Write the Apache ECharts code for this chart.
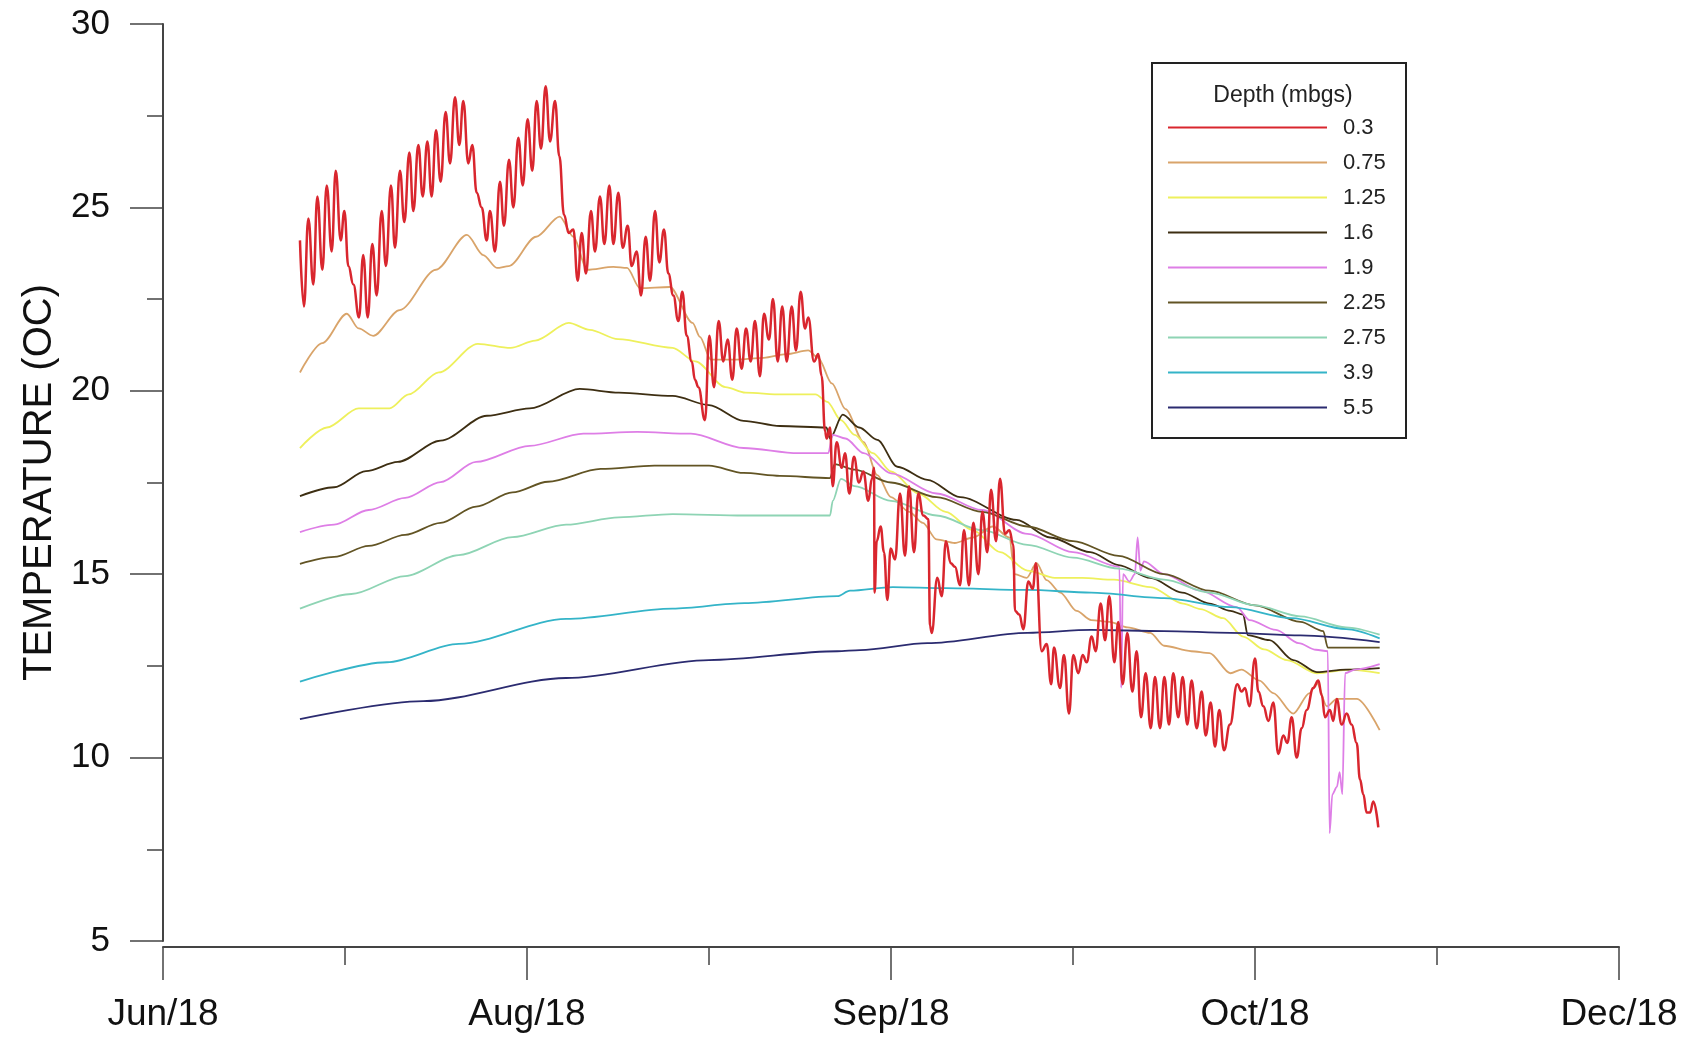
<!DOCTYPE html>
<html>
<head>
<meta charset="utf-8">
<script src="https://cdn.jsdelivr.net/npm/echarts@6/dist/echarts.min.js"></script>
<style>
    html, body { margin: 0; padding: 0; background: #fff; }
    #chart { width: 1685px; height: 1038px; }
</style>
</head>
<body>
<div id="chart"></div>
<script>
// x = days after the Jun/18 tick, y = temperature
const depths = ['0.3', '0.75', '1.25', '1.6', '1.9', '2.25', '2.75', '3.9', '5.5']
const xTickLabels = ['Jun/18', 'Aug/18', 'Sep/18', 'Oct/18', 'Dec/18']
const colors = ['#d9262e', '#d9a46a', '#eef05c', '#3d2e12', '#de7ee6', '#625424', '#8ed4b4', '#34b4c8', '#2b2b70']

const t03 = [
    [15.05,24.1],[15.49,22.3],[15.97,24.7],[16.52,22.9],[16.96,25.3],[17.51,23.3],[17.99,25.6],[18.54,23.8],[18.98,26.0],[19.53,24.1],
    [19.93,24.9],[20.37,23.4],[20.92,22.9],[21.54,22.0],[22.0,23.7],[22.5,22.0],[23.0,24.0],[23.48,22.6],[24.03,24.9],[24.5,23.4],
    [25.05,25.6],[25.49,23.9],[26.04,26.0],[26.52,24.6],[27.07,26.5],[27.51,24.9],[28.06,26.7],[28.54,25.3],[29.05,26.8],[29.52,25.3],
    [30.0,27.1],[30.51,25.7],[31.06,27.6],[31.54,26.2],[32.09,28.0],[32.56,26.7],[33.0,27.9],[33.55,26.2],[33.99,26.7],[34.47,25.4],
    [35.02,25.0],[35.57,24.1],[35.93,24.9],[36.48,23.8],[37.03,25.7],[37.47,24.5],[38.02,26.3],[38.5,25.0],[39.05,26.9],[39.53,25.6],
    [40.07,27.4],[40.58,26.0],[41.06,27.9],[41.54,26.6],[42.05,28.3],[42.53,26.8],[43.08,27.9],[43.55,26.4],[44.07,24.8],[44.58,24.3],
    [45.09,24.4],[45.57,23.0],[46.01,24.3],[46.48,23.2],[47.03,24.9],[47.47,23.8],[48.02,25.3],[48.5,24.0],[49.05,25.6],[49.49,24.0],
    [50.04,25.4],[50.52,23.9],[51.07,24.5],[51.5,23.4],[52.05,23.8],[52.53,22.6],[53.04,24.2],[53.52,23.0],[54.07,24.9],[54.54,23.5],
    [55.05,24.4],[55.53,23.2],[56.08,22.6],[56.63,21.9],[57.07,22.7],[57.55,21.5],[58.1,20.8],[58.46,20.3],[58.83,20.1],[59.56,19.2],
    [60.03,21.5],[60.55,20.1],[61.06,21.9],[61.57,20.8],[62.05,21.4],[62.56,20.3],[63.04,21.7],[63.59,20.6],[64.07,21.7],[64.58,20.8],
    [65.05,21.9],[65.6,20.4],[66.04,22.1],[66.59,21.4],[67.03,22.5],[67.55,20.8],[68.05,22.3],[68.54,20.8],[69.09,22.3],[69.56,21.1],
    [70.07,22.7],[70.55,21.7],[70.91,22.0],[71.54,20.8],[72.01,21.0],[72.38,20.4],[72.75,18.9],[72.93,18.7],[73.3,19.0],[73.59,17.4],
    [74.03,18.6],[74.58,17.9],[74.95,18.3],[75.42,17.2],[75.93,18.2],[76.48,17.5],[76.96,17.8],[77.51,17.0],[77.9,17.6],[78.13,17.9],
    [78.2,14.5],[78.43,15.9],[78.86,16.3],[79.23,15.6],[79.6,14.3],[79.96,15.7],[80.44,15.4],[80.99,17.2],[81.54,15.5],[81.98,17.4],
    [82.53,15.6],[83.0,17.2],[83.55,16.6],[84.1,16.5],[84.29,13.6],[84.47,13.4],[85.09,14.9],[85.57,14.4],[86.04,15.9],[86.56,15.3],
    [87.03,15.2],[87.58,14.7],[88.02,16.2],[88.57,14.7],[89.05,16.4],[89.6,15.0],[90.04,16.7],[90.58,15.6],[90.99,17.3],[91.54,15.9],
    [91.98,17.6],[92.53,16.1],[93.0,16.2],[93.44,15.8],[93.63,14.0],[94.1,13.9],[94.54,13.5],[95.09,14.8],[95.57,14.6],[95.93,15.3],
    [96.56,12.9],[97.11,13.1],[97.6,12.0],[97.91,13.0],[98.57,11.9],[99.01,12.8],[99.56,11.2],[100.04,12.8],[100.58,12.3],[101.06,12.8],
    [101.5,12.6],[102.05,13.3],[102.49,12.9],[103.04,14.2],[103.52,13.2],[103.99,14.4],[104.54,12.6],[104.98,13.7],[105.46,12.0],[105.97,13.4],
    [106.52,11.8],[107.0,12.9],[107.47,11.1],[107.99,12.3],[108.54,10.8],[109.01,12.2],[109.56,10.8],[110.04,12.2],[110.55,10.9],[111.02,12.3],
    [111.57,11.1],[112.05,12.2],[112.56,10.9],[113.04,12.1],[113.59,10.8],[114.14,11.8],[114.58,10.6],[115.13,11.5],[115.6,10.3],[116.08,11.3],
    [116.59,10.2],[117.25,10.9],[118.05,12.0],[118.53,11.8],[118.9,11.9],[119.38,11.4],[120.0,12.7],[120.37,11.8],[120.92,11.4],[121.47,11.0],
    [122.01,11.5],[122.56,10.1],[123.11,10.6],[123.55,10.4],[124.03,11.1],[124.58,10.0],[125.13,10.8],[125.68,11.3],[126.41,11.9],[126.96,12.1],
    [127.33,11.7],[127.69,11.1],[128.24,11.3],[128.6,11.0],[128.98,11.6],[129.53,10.9],[130.07,11.2],[130.62,10.9],[131.17,10.4],[131.54,9.4],
    [131.9,9.0],[132.27,8.5],[132.64,8.5],[133.0,8.8],[133.55,8.1]
]
const t075 = [
    [15.05,20.5],[17.5,21.3],[20.2,22.1],[21.5,21.7],[23.1,21.5],[26,22.2],[30,23.3],[33.4,24.25],[35.2,23.7],[36.7,23.35],
    [38,23.4],[41,24.2],[43.6,24.75],[45.1,24.2],[46.6,23.3],[49.5,23.38],[51,23.35],[52.4,22.8],[55.7,22.83],[58.2,21.85],
    [59,21.47],[60.2,20.85],[63,20.85],[66,20.9],[68.5,21.0],[70.9,21.1],[72,20.9],[73.5,20.2],[75,19.5],[77,18.6],
    [78.5,17.7],[80,17.1],[82,16.7],[83.5,16.4],[85,15.95],[87,15.85],[89,16.0],[91.2,16.3],[93,16.0],[93.6,15.0],
    [94.9,14.9],[96,15.3],[97.1,14.84],[98.6,14.5],[100.4,14.0],[102,13.75],[104,13.7],[106,13.55],[108.5,13.4],[110,13.05],
    [113,12.9],[115,12.85],[117.3,12.3],[118.5,12.4],[120.5,12.1],[122,11.76],[124.2,11.2],[126,11.76],[126.8,12.03],[127.9,11.4],
    [129,11.6],[131.2,11.6],[133.7,10.75]
]
const t125 = [
    [15.05,18.44],[18,19.0],[21.5,19.52],[24.9,19.52],[27,19.9],[30.3,20.5],[34.6,21.28],[38.2,21.17],[40.9,21.37],[44.6,21.85],
    [46.9,21.66],[50,21.41],[56,21.17],[58.5,20.8],[61.8,20.1],[64,19.95],[68,19.9],[71.7,19.9],[73,19.7],[74.5,19.2],
    [76,18.8],[78,18.3],[80,17.8],[83,17.2],[86,16.7],[89,16.2],[92,15.6],[95,15.1],[98,14.9],[101,14.9],
    [104.5,14.85],[108.5,14.65],[112.1,14.2],[114,14.05],[116.5,13.8],[118.7,13.3],[121,12.95],[123.5,12.66],[126.8,12.3],[130.4,12.4],
    [133.7,12.3]
]
const t16 = [
    [15.05,17.13],[18.8,17.37],[22.3,17.81],[25.8,18.06],[30.5,18.64],[35.6,19.32],[40.3,19.52],[45.8,20.05],[50.1,19.95],[56,19.86],
    [60,19.61],[63.8,19.18],[67.8,19.04],[72.9,19.0],[73.3,18.7],[74.7,19.35],[76.5,19.0],[78.5,18.66],[80.7,17.93],[84,17.57],
    [87.6,17.1],[93.8,16.48],[97.5,16.0],[101.9,15.6],[105,15.25],[108.5,14.9],[112,14.5],[115,14.2],[117.3,14.0],[118.7,13.9],
    [119.2,13.34],[121.6,13.2],[124.2,12.66],[126.8,12.33],[130,12.4],[133.7,12.44]
]
const t19 = [
    [15.05,16.15],[18.8,16.35],[22.6,16.75],[26.6,17.08],[30.5,17.51],[34.4,18.06],[40.3,18.5],[46.2,18.83],[52.1,18.88],[58,18.83],
    [63.8,18.44],[69.8,18.3],[73.1,18.3],[73.6,18.8],[75,18.7],[77,18.3],[80,17.75],[85,17.2],[90,16.75],[95,16.1],
    [100,15.6],[105.1,15.2],[105.3,11.9],[105.5,15.0],[106.2,14.8],[106.8,15.0],[107.1,16.0],[107.4,15.1],[107.8,15.35],[110,15.0],
    [114,14.55],[118,14.1],[119.4,13.75],[122.3,13.48],[124.8,13.12],[126.7,12.94],[128,12.9],[128.2,7.94],[128.5,9.0],[129,9.2],
    [129.3,9.6],[129.6,9.0],[129.9,12.3],[131,12.4],[133.7,12.55]
]
const t225 = [
    [15.05,15.28],[18.8,15.47],[22.6,15.77],[26.6,16.07],[30.5,16.4],[34.4,16.84],[38.4,17.23],[42.3,17.52],[48.1,17.87],[54,17.96],
    [60,17.96],[63.8,17.76],[67.8,17.68],[73.3,17.62],[73.8,18.0],[76,17.85],[80,17.5],[85,17.1],[90,16.7],[95,16.3],
    [100,15.9],[105,15.5],[110,15.0],[115,14.55],[120,14.15],[125,13.7],[127.5,13.45],[128,13.0],[133.7,13.0]
]
const t275 = [
    [15.05,14.06],[20.7,14.46],[26.6,14.95],[32.5,15.52],[38.4,16.01],[44.3,16.35],[50.1,16.55],[56,16.64],[63.8,16.6],[73.3,16.6],
    [73.6,17.0],[74.5,17.6],[76,17.4],[80,17.0],[85,16.6],[90,16.2],[95,15.8],[100,15.45],[105,15.15],[110,14.85],
    [115,14.5],[120,14.15],[125,13.85],[130,13.55],[133.7,13.35]
]
const t39 = [
    [15.05,12.07],[24.6,12.6],[32.5,13.1],[44.3,13.78],[56,14.06],[63.9,14.21],[74.1,14.4],[75.5,14.55],[80.2,14.65],[86,14.62],
    [95,14.57],[102,14.5],[110,14.35],[117.3,14.1],[124,13.8],[130,13.5],[133.7,13.25]
]
const t55 = [
    [15.05,11.05],[28.6,11.54],[44.3,12.17],[60,12.66],[74.1,12.9],[76.6,12.93],[84,13.12],[95,13.4],[102,13.48],[110,13.45],
    [117.3,13.4],[125,13.33],[133.7,13.15]
]
const seriesData = [t03, t075, t125, t16, t19, t225, t275, t39, t55]

const chart = echarts.init(document.getElementById('chart'))
const font = '"Liberation Sans", Arial, sans-serif'

chart.setOption({
    animation: false,
    backgroundColor: '#fff',
    textStyle: { fontFamily: font },
    title: {
        text: 'Depth (mbgs)',
        left: 1278,
        top: 79,
        textAlign: 'center',
        textStyle: { fontSize: 23, fontWeight: 'normal', color: '#222', fontFamily: font }
    },
    legend: {
        data: depths,
        orient: 'vertical',
        left: 1168,
        top: 110,
        padding: 0,
        itemGap: 0,
        itemWidth: 159,
        itemHeight: 2,
        icon: 'rect',
        textStyle: { fontSize: 22, lineHeight: 35, color: '#222', padding: [0, 0, 0, 11] }
    },
    graphic: [{
        type: 'rect',
        shape: { x: 1152, y: 63, width: 254, height: 375 },
        style: { fill: 'none', stroke: '#222', lineWidth: 2 },
        z: 100
    }],
    grid: { left: 163, right: 66, top: 24, bottom: 97 },
    xAxis: {
        type: 'value',
        min: 0,
        max: 160,
        interval: 40,
        offset: 6,
        axisLine: { lineStyle: { color: '#444', width: 2 } },
        axisTick: { length: 33, lineStyle: { color: '#444', width: 1.5 } },
        minorTick: { show: true, splitNumber: 2, length: 18, lineStyle: { color: '#444', width: 1.5 } },
        splitLine: { show: false },
        axisLabel: {
            margin: 49,
            fontSize: 37,
            color: '#111',
            formatter: v => xTickLabels[v / 40]
        }
    },
    yAxis: {
        type: 'value',
        min: 5,
        max: 30,
        interval: 5,
        name: 'TEMPERATURE (OC)',
        nameLocation: 'middle',
        nameGap: 100,
        nameTextStyle: { fontSize: 40, color: '#111' },
        axisLine: { show: true, lineStyle: { color: '#444', width: 2 } },
        axisTick: { length: 33, lineStyle: { color: '#444', width: 1.5 } },
        minorTick: { show: true, splitNumber: 2, length: 16, lineStyle: { color: '#444', width: 1.5 } },
        splitLine: { show: false },
        axisLabel: { margin: 53, fontSize: 35, color: '#111' }
    },
    series: seriesData.map((data, i) => ({
        name: depths[i],
        type: 'line',
        data: data,
        showSymbol: false,
        smooth: i === 0 ? 0.45 : 0.3,
        smoothMonotone: 'x',
        z: i === 0 ? 5 : 2,
        color: colors[i],
        lineStyle: { color: colors[i], width: i === 0 ? 2.5 : 1.8 }
    }))
})

window.addEventListener('resize', () => chart.resize())
</script>
</body>
</html>
